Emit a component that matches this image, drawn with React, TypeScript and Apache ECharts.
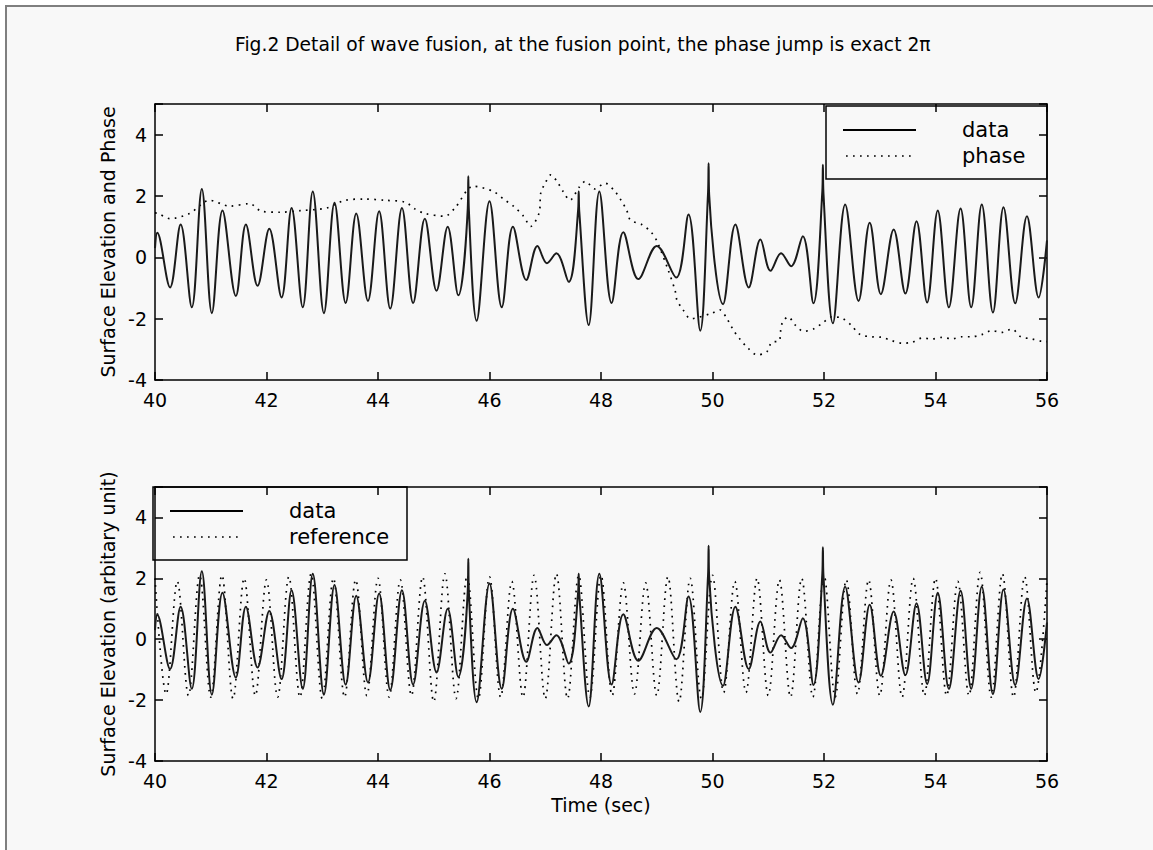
import React, { useEffect, useRef } from "react";
import * as echarts from "echarts";

const FONT = "DejaVu Sans";

const titleText =
  "Fig.2 Detail of wave fusion, at the fusion point, the phase jump is exact 2\u03c0";
const topYName = "Surface Elevation and Phase";
const bottomYName = "Surface Elevation (arbitary unit)";
const xName = "Time (sec)";

const xMin = 40;
const xMax = 56;
const xStep = 2;
const yMin = -4;
const yMax = 5;
const yStep = 2;

const dataTime = [
  40.0, 40.04, 40.27, 40.46, 40.66, 40.84, 41.02, 41.21, 41.45, 41.63, 41.84,
  42.05, 42.27, 42.45, 42.65, 42.83, 43.03, 43.22, 43.42, 43.61, 43.82, 44.02,
  44.22, 44.43, 44.63, 44.84, 45.05, 45.25, 45.44, 45.61, 45.62, 45.63, 45.77,
  46.0, 46.22, 46.42, 46.66, 46.86, 47.03, 47.2, 47.42, 47.59, 47.6, 47.61,
  47.78, 47.97, 48.19, 48.4, 48.67, 49.0, 49.35, 49.57, 49.78, 49.92, 49.93,
  49.94, 50.19, 50.41, 50.65, 50.86, 51.04, 51.23, 51.41, 51.62, 51.81, 51.97,
  51.98, 51.99, 52.16, 52.38, 52.62, 52.82, 53.02, 53.25, 53.46, 53.66, 53.85,
  54.04, 54.24, 54.45, 54.64, 54.83, 55.03, 55.22, 55.43, 55.64, 55.85, 56.0,
];
const dataElevation = [
  0.3, 0.8, -0.98, 1.07, -1.63, 2.23, -1.82, 1.53, -1.26, 1.07, -0.93,
  0.93, -1.31, 1.61, -1.63, 2.15, -1.82, 1.78, -1.49, 1.43, -1.42, 1.5,
  -1.67, 1.61, -1.49, 1.26, -1.09, 1.0, -1.24, 1.6, 2.64, 1.55, -2.07,
  1.83, -1.63, 1.0, -0.74, 0.37, -0.19, 0.13, -0.8, 1.55, 2.15, 1.5,
  -2.21, 2.15, -1.49, 0.82, -0.71, 0.37, -0.66, 1.4, -2.39, 2.1, 3.07,
  2.05, -1.53, 1.07, -0.98, 0.58, -0.44, 0.13, -0.29, 0.69, -1.5, 2.15,
  3.02, 2.1, -2.15, 1.72, -1.42, 1.13, -1.2, 0.91, -1.18, 1.18, -1.47,
  1.53, -1.63, 1.59, -1.63, 1.72, -1.8, 1.63, -1.5, 1.34, -1.31, 0.55,
];

// phase curve (top panel)
const phaseTime = [
  40.0, 40.06, 40.27, 40.62, 40.98, 41.34, 41.7, 41.91, 42.24, 42.6, 43.08,
  43.41, 43.77, 44.13, 44.49, 44.66, 44.84, 45.2, 45.38, 45.71, 46.07, 46.25,
  46.43, 46.61, 46.74, 46.89, 46.92, 47.0, 47.1, 47.21, 47.32, 47.44, 47.61,
  47.72, 47.89, 48.07, 48.25, 48.36, 48.46, 48.53, 48.73, 48.9, 49.01, 49.21,
  49.33, 49.36, 49.47, 49.61, 49.99, 50.13, 50.26, 50.37, 50.49, 50.62, 50.8,
  50.97, 51.06, 51.2, 51.22, 51.26, 51.36, 51.48, 51.63, 51.81, 51.99, 52.14,
  52.32, 52.48, 52.65, 52.86, 53.04, 53.22, 53.4, 53.58, 53.76, 53.94, 54.12,
  54.3, 54.47, 54.65, 54.83, 55.01, 55.19, 55.37, 55.53, 55.73, 55.91, 56.0,
];
const phaseValue = [
  1.45, 1.43, 1.26, 1.43, 1.86, 1.67, 1.75, 1.5, 1.47, 1.52, 1.61,
  1.86, 1.9, 1.86, 1.8, 1.58, 1.43, 1.34, 1.61, 2.32, 2.15, 1.9,
  1.67, 1.34, 1.01, 1.45, 2.1, 2.42, 2.69, 2.48, 2.15, 1.86, 2.29,
  2.48, 2.23, 2.42, 2.15, 1.86, 1.54, 1.21, 1.07, 0.82, 0.5, -0.44,
  -1.09, -1.38, -1.71, -2.0, -1.82, -1.71, -2.0, -2.36, -2.66, -2.93, -3.18,
  -3.09, -2.77, -2.72, -2.42, -2.1, -1.94, -2.2, -2.41, -2.34, -2.12, -1.94,
  -1.98, -2.2, -2.52, -2.59, -2.61, -2.72, -2.8, -2.77, -2.63, -2.66, -2.61,
  -2.66, -2.59, -2.59, -2.52, -2.39, -2.45, -2.34, -2.59, -2.66, -2.74, -2.75,
];

// reference wave (bottom panel), crests and troughs
const referenceTime = [
  40.0, 40.2, 40.4, 40.6, 40.8, 41.0, 41.2, 41.4, 41.6, 41.8, 42.0, 42.2,
  42.4, 42.6, 42.8, 43.0, 43.2, 43.4, 43.6, 43.8, 44.0, 44.2, 44.4, 44.6,
  44.8, 45.0, 45.2, 45.4, 45.6, 45.8, 46.0, 46.2, 46.4, 46.6, 46.8, 47.0,
  47.2, 47.4, 47.6, 47.8, 48.0, 48.2, 48.4, 48.6, 48.8, 49.0, 49.2, 49.4,
  49.6, 49.8, 50.0, 50.2, 50.4, 50.6, 50.8, 51.0, 51.2, 51.4, 51.6, 51.8,
  52.0, 52.2, 52.4, 52.6, 52.8, 53.0, 53.2, 53.4, 53.6, 53.8, 54.0, 54.2,
  54.4, 54.6, 54.8, 55.0, 55.2, 55.4, 55.6, 55.8, 56.0,
];
const referenceValue = [
  2.0, -1.8, 1.9, -1.85, 2.1, -1.9, 2.1, -1.95, 2.0, -1.85, 1.95, -1.9,
  2.05, -1.9, 2.15, -1.95, 2.0, -1.9, 1.95, -1.85, 2.0, -1.9, 1.95, -1.85,
  2.05, -2.05, 2.15, -1.95, 2.1, -1.95, 2.05, -1.9, 1.9, -1.9, 2.1, -1.95,
  2.15, -1.95, 2.1, -1.9, 2.1, -1.85, 1.85, -1.8, 1.85, -1.85, 2.05, -2.05,
  2.0, -1.95, 2.1, -1.75, 1.9, -1.75, 2.0, -1.85, 1.95, -1.9, 2.0, -1.9,
  2.1, -1.9, 1.95, -1.8, 1.95, -1.85, 1.95, -1.9, 2.0, -1.85, 2.0, -1.85,
  1.9, -1.85, 2.2, -1.9, 2.15, -1.9, 2.05, -1.75, 1.95,
];

const topLegend = ["data", "phase"];
const bottomLegend = ["data", "reference"];

const pairs = (xs: number[], ys: number[]) => xs.map((x, i) => [x, ys[i]]);

const DOT: number[] = [1.7, 5.3];

function xAxisDef(gridIndex: number, position: "top" | "bottom", labels: boolean, name?: string) {
  return {
    type: "value",
    gridIndex,
    position,
    min: xMin,
    max: xMax,
    interval: xStep,
    name: name || "",
    nameLocation: "middle",
    nameGap: 34,
    nameTextStyle: { color: "#000", fontSize: 19, fontFamily: FONT },
    axisLine: { show: true, onZero: false, lineStyle: { color: "#000", width: 1.5 } },
    axisTick: { show: true, inside: true, length: 8, lineStyle: { color: "#000", width: 1.5 } },
    axisLabel: { show: labels, margin: 10, color: "#000", fontSize: 19, fontFamily: FONT },
    splitLine: { show: false },
  };
}

function yAxisDef(gridIndex: number, position: "left" | "right", labels: boolean, name?: string) {
  return {
    type: "value",
    gridIndex,
    position,
    min: yMin,
    max: yMax,
    interval: yStep,
    name: name || "",
    nameLocation: "middle",
    nameGap: 29,
    nameTextStyle: { color: "#000", fontSize: 19, fontFamily: FONT },
    axisLine: { show: true, onZero: false, lineStyle: { color: "#000", width: 1.5 } },
    axisTick: { show: true, inside: true, length: 8, lineStyle: { color: "#000", width: 1.5 } },
    axisLabel: {
      show: labels,
      margin: 8,
      color: "#000",
      fontSize: 19,
      fontFamily: FONT,
      formatter: (v: number) => (v > 4 ? "" : String(v)),
    },
    splitLine: { show: false },
  };
}

function legendBox(x: number, y: number, w: number, h: number, names: string[]) {
  const textX = x + 136;
  return {
    type: "group",
    z: 100,
    children: [
      {
        type: "rect",
        shape: { x, y, width: w, height: h },
        style: { fill: "#f8f8f8", stroke: "#000", lineWidth: 1.5 },
      },
      {
        type: "line",
        shape: { x1: x + 17, y1: y + 24, x2: x + 90, y2: y + 24 },
        style: { stroke: "#000", lineWidth: 2 },
      },
      {
        type: "line",
        shape: { x1: x + 20, y1: y + 50, x2: x + 86, y2: y + 50 },
        style: { stroke: "#000", lineWidth: 1.7, lineDash: DOT },
      },
      {
        type: "text",
        style: {
          text: names[0],
          x: textX,
          y: y + 24,
          fill: "#000",
          fontSize: 21,
          fontFamily: FONT,
          verticalAlign: "middle",
          align: "left",
        },
      },
      {
        type: "text",
        style: {
          text: names[1],
          x: textX,
          y: y + 50,
          fill: "#000",
          fontSize: 21,
          fontFamily: FONT,
          verticalAlign: "middle",
          align: "left",
        },
      },
    ],
  };
}

export default function App() {
  const ref = useRef<HTMLDivElement>(null);

  useEffect(() => {
    if (!ref.current) return;
    const chart = echarts.init(ref.current, undefined, { renderer: "svg" });
    const option = {
      animation: false,
      backgroundColor: "transparent",
      title: {
        text: titleText,
        left: 230,
        top: 30,
        textStyle: { fontSize: 18.7, fontFamily: FONT, fontWeight: "normal", color: "#000" },
      },
      grid: [
        { left: 155, top: 104, width: 892, height: 276 },
        { left: 155, top: 487, width: 892, height: 274 },
      ],
      xAxis: [
        xAxisDef(0, "bottom", true),
        xAxisDef(0, "top", false),
        xAxisDef(1, "bottom", true, xName),
        xAxisDef(1, "top", false),
      ],
      yAxis: [
        yAxisDef(0, "left", true, topYName),
        yAxisDef(0, "right", false),
        yAxisDef(1, "left", true, bottomYName),
        yAxisDef(1, "right", false),
      ],
      series: [
        {
          type: "line",
          name: topLegend[1],
          xAxisIndex: 0,
          yAxisIndex: 0,
          data: pairs(phaseTime, phaseValue),
          smooth: 0.3,
          symbol: "none",
          lineStyle: { color: "#000", width: 1.7, type: DOT },
          z: 2,
        },
        {
          type: "line",
          name: topLegend[0],
          xAxisIndex: 0,
          yAxisIndex: 0,
          data: pairs(dataTime, dataElevation),
          smooth: 0.36,
          symbol: "none",
          lineStyle: { color: "#1a1a1a", width: 2 },
          z: 3,
        },
        {
          type: "line",
          name: bottomLegend[1],
          xAxisIndex: 2,
          yAxisIndex: 2,
          data: pairs(referenceTime, referenceValue),
          smooth: 0.36,
          symbol: "none",
          lineStyle: { color: "#000", width: 1.7, type: DOT },
          z: 2,
        },
        {
          type: "line",
          name: bottomLegend[0],
          xAxisIndex: 2,
          yAxisIndex: 2,
          data: pairs(dataTime, dataElevation),
          smooth: 0.36,
          symbol: "none",
          lineStyle: { color: "#1a1a1a", width: 2 },
          z: 3,
        },
      ],
      graphic: [
        legendBox(826, 106, 221, 73, topLegend),
        legendBox(153, 487, 254, 73, bottomLegend),
      ],
    };
    chart.setOption(option as any);
    return () => chart.dispose();
  }, []);

  return (
    <div style={{ position: "fixed", left: 0, top: 0, width: 1153, height: 850, background: "#ffffff" }}>
      <div
        style={{
          position: "absolute",
          left: 5,
          top: 5,
          width: 1148,
          height: 845,
          background: "#f8f8f8",
          borderLeft: "2px solid #7f7f7f",
          borderTop: "2px solid #7f7f7f",
          boxSizing: "border-box",
        }}
      />
      <div ref={ref} style={{ position: "absolute", left: 0, top: 0, width: 1153, height: 850 }} />
    </div>
  );
}
